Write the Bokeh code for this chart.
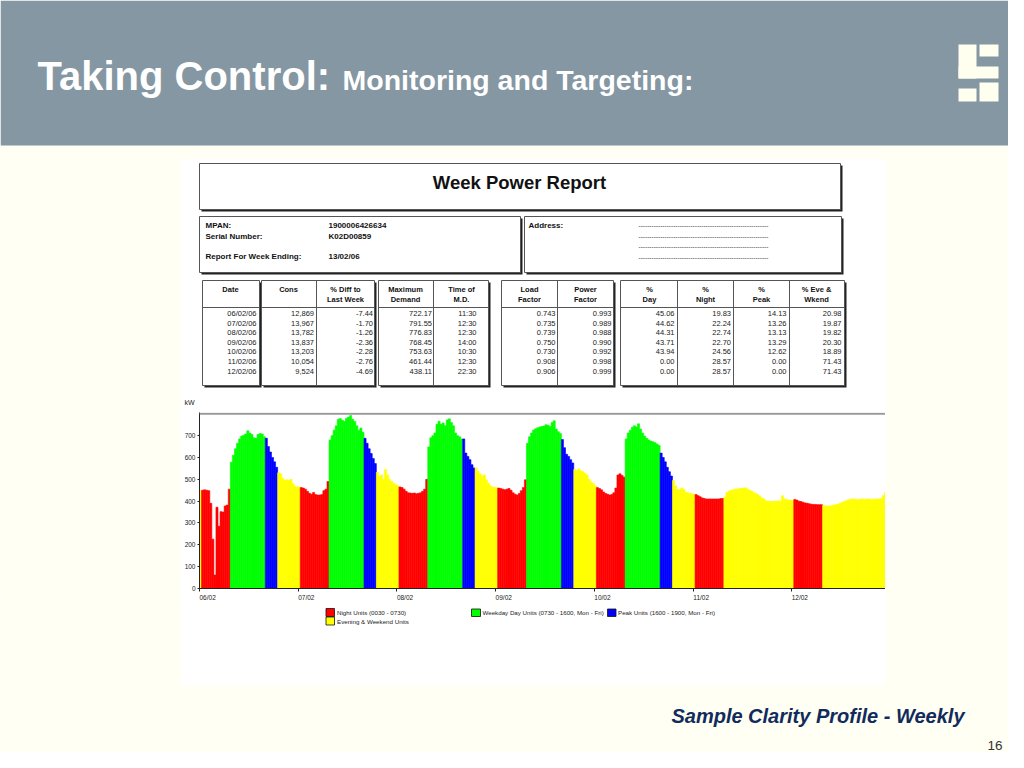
from bokeh.plotting import figure
from bokeh.layouts import column, row
from bokeh.models import Range1d, FixedTicker, Span, ColumnDataSource
from bokeh.core.properties import value
from bokeh.embed import file_html
from bokeh.resources import INLINE

# ---------------- data ----------------
dates = ["06/02/06", "07/02/06", "08/02/06", "09/02/06", "10/02/06", "11/02/06", "12/02/06"]
cons = [12869, 13967, 13782, 13837, 13203, 10054, 9524]
pct_diff = [-7.44, -1.70, -1.26, -2.36, -2.28, -2.76, -4.69]
max_demand = [722.17, 791.55, 776.83, 768.45, 753.63, 461.44, 438.11]
time_md = ["11:30", "12:30", "12:30", "14:00", "10:30", "12:30", "22:30"]
load_factor = [0.743, 0.735, 0.739, 0.750, 0.730, 0.908, 0.906]
power_factor = [0.993, 0.989, 0.988, 0.990, 0.992, 0.998, 0.999]
pct_day = [45.06, 44.62, 44.31, 43.71, 43.94, 0.00, 0.00]
pct_night = [19.83, 22.24, 22.74, 22.70, 24.56, 28.57, 28.57]
pct_peak = [14.13, 13.26, 13.13, 13.29, 12.62, 0.00, 0.00]
pct_eve = [20.98, 19.87, 19.82, 20.30, 18.89, 71.43, 71.43]

day_labels = ["06/02", "07/02", "08/02", "09/02", "10/02", "11/02", "12/02"]
is_weekday = [True, True, True, True, True, False, False]
y_ticks = [0, 100, 200, 300, 400, 500, 600, 700]

# half-hourly kW, 48 values per day (slot 0 = 00:00-00:30)
kw_0602 = [448,
           450, 452, 450, 448, 390, 226, 62, 372, 285, 352, 350, 378, 382, 455,
           578, 610, 640, 665, 685, 698, 702, 708, 722, 712, 705, 690, 688, 705, 710, 708, 695,
           688, 650, 625, 600, 580, 555,
           530, 525, 505, 495, 498, 495, 500, 480, 468, 465]
kw_0702 = [465,
           462, 460, 455, 445, 436, 432, 440, 430, 428, 428, 430, 448, 455, 490,
           680, 700, 725, 745, 775, 778, 770, 765, 780, 785, 792, 775, 765, 745, 725, 735, 715,
           688, 665, 640, 618, 595, 572,
           532, 515, 520, 500, 545, 520, 500, 490, 482, 475]
kw_0802 = [470,
           465, 462, 455, 445, 438, 437, 436, 437, 434, 436, 438, 445, 455, 500,
           648, 690, 700, 712, 752, 766, 752, 758, 745, 772, 777, 760, 745, 712, 700, 695, 685,
           685, 620, 605, 590, 567, 552,
           552, 536, 525, 513, 520, 498, 482, 470, 465, 463]
kw_0902 = [462,
           460, 458, 455, 452, 455, 458, 450, 438, 432, 428, 435, 448, 462, 498,
           665, 695, 712, 726, 732, 736, 740, 742, 744, 750, 748, 742, 760, 768, 730, 718, 710,
           682, 645, 615, 605, 590, 575,
           545, 540, 548, 538, 535, 528, 520, 500, 488, 480]
kw_1002 = [470,
           462, 458, 452, 442, 435, 432, 428, 430, 438, 460, 520, 525, 518, 510,
           685, 712, 725, 738, 745, 740, 754, 730, 712, 698, 688, 680, 675, 672, 668, 662, 655,
           620, 600, 580, 555, 535, 515,
           495, 470, 455, 452, 460, 455, 440, 438, 436, 434]
kw_1102 = [432,
           430, 425, 420, 415, 412, 410, 410, 410, 410, 410, 410, 410, 412, 412,
           418, 440, 445, 450, 452, 455, 456, 458, 458, 460, 461, 456, 450, 446, 440, 436, 430,
           422, 415, 410, 402, 400, 398,
           400, 398, 400, 402, 400, 425, 410, 408, 405, 405]
kw_1202 = [402,
           408, 405, 400, 398, 395, 392, 390, 388, 386, 385, 385, 384, 384, 384,
           380, 378, 378, 378, 380, 382, 384, 386, 390, 394, 398, 402, 406, 408, 410, 410, 408,
           408, 410, 410, 408, 410, 410,
           408, 408, 410, 410, 410, 412, 425, 438, 432, 428]
week_kw = [kw_0602, kw_0702, kw_0802, kw_0902, kw_1002, kw_1102, kw_1202]

# tariff bands in half-hour slots
NIGHT_SLOTS = (1, 15)   # 00:30 - 07:30
DAY_SLOTS = (15, 32)    # 07:30 - 16:00
PEAK_SLOTS = (32, 38)   # 16:00 - 19:00

RED, GREEN, BLUE, YELLOW = "#FF0000", "#00FF00", "#0000FF", "#FFFF00"
legend_labels = ["Night Units (0030 - 0730)", "Evening & Weekend Units",
                 "Weekday Day Units (0730 - 1600, Mon - Fri)", "Peak Units (1600 - 1900, Mon - Fri)"]

# ---------------- styling ----------------
SLIDE_BG = "#FFFFF3"
HEADER_BG = "#8497A3"
FONT = "Liberation Sans"
NBSP = "\u00a0"


def panel(x0, x1, y0, y1, bg=SLIDE_BG):
    p = figure(width=x1 - x0, height=y1 - y0, x_range=Range1d(x0, x1), y_range=Range1d(y1, y0),
               output_backend="svg", toolbar_location=None, min_border=0,
               x_axis_location=None, y_axis_location=None)
    p.grid.visible = False
    p.outline_line_color = None
    p.background_fill_color = bg
    p.border_fill_color = bg
    return p


def txt(p, xs, ys, texts, size, align="left", style="normal", color="#111111",
        baseline="middle", font=FONT):
    p.text(x=xs, y=ys, text=texts, text_font=value(font), text_font_size=size,
           text_font_style=style, text_color=color, text_align=align, text_baseline=baseline)


def box(p, l, t, r, b, shadow=2):
    p.quad(left=[l + shadow], right=[r + shadow], top=[t + shadow], bottom=[b + shadow],
           fill_color="#222222", line_color=None)
    p.quad(left=[l], right=[r], top=[t], bottom=[b], fill_color="white",
           line_color="#555555", line_width=1)


# ---------------- top part (slide header + report tables) ----------------
top = panel(0, 1008, 0, 409)
top.quad(left=[0], right=[1008], top=[0], bottom=[145], fill_color=HEADER_BG, line_color=None)
txt(top, [37], [75.5], ["Taking Control:"], "40px", style="bold", color="white",
    baseline="alphabetic")
txt(top, [342], [79], ["Monitoring and Targeting:"], "28.5px", style="bold", color="white",
    baseline="alphabetic")
# logo
top.quad(left=[958, 958, 979, 958, 979], right=[976, 998, 998, 976, 998],
         top=[44, 66, 44, 88, 82], bottom=[78, 78, 56, 101, 101],
         fill_color="#FFFFF0", line_color=None)
# white report panel
top.quad(left=[180], right=[885], top=[158], bottom=[409], fill_color="white", line_color=None)

# title box
box(top, 199, 163, 840, 209)
txt(top, [519], [182], ["Week Power Report"], "18.5px", align="center", style="bold")

# info boxes
box(top, 199, 216, 520, 272)
box(top, 524, 216, 841, 272)
txt(top, [205, 205, 205], [225, 236, 256], ["MPAN:", "Serial Number:", "Report For Week Ending:"],
    "8px", style="bold")
txt(top, [328, 328, 328], [225, 236, 256], ["1900006426634", "K02D00859", "13/02/06"],
    "8px", style="bold")
txt(top, [528], [225], ["Address:"], "8px", style="bold")
txt(top, [638] * 4, [225, 235.5, 246, 256.5], ["-" * 60] * 4, "6.5px", color="#444444")

# table boxes
tbl_top, tbl_head, tbl_bot = 280, 307, 385
for l, r in [(202, 259), (261, 374), (378, 488), (501, 613), (620, 844)]:
    box(top, l, tbl_top, r, tbl_bot)
    top.segment(x0=[l], y0=[tbl_head], x1=[r], y1=[tbl_head], line_color="#555555", line_width=1)
dividers = [316, 433, 557, 677, 733, 789]
top.segment(x0=dividers, y0=[tbl_top] * 6, x1=dividers, y1=[tbl_bot] * 6,
            line_color="#555555", line_width=1)

headers = [(230, ["Date"]), (288, ["Cons"]), (345, ["% Diff to", "Last Week"]),
           (405, ["Maximum", "Demand"]), (461, ["Time of", "M.D."]), (529, ["Load", "Factor"]),
           (585, ["Power", "Factor"]), (649, ["%", "Day"]), (705, ["%", "Night"]),
           (761, ["%", "Peak"]), (816, ["% Eve &", "Wkend"])]
hx, hy, ht = [], [], []
for x, lines in headers:
    for k, line in enumerate(lines):
        hx.append(x)
        hy.append(289 + 10 * k)
        ht.append(line)
txt(top, hx, hy, ht, "7.5px", align="center", style="bold")

columns = [
    (256, dates),
    (313.5, [f"{v:,}" for v in cons]),
    (372.5, [f"{v:.2f}" for v in pct_diff]),
    (431.5, [f"{v:.2f}" for v in max_demand]),
    (476, time_md),
    (555, [f"{v:.3f}" for v in load_factor]),
    (611, [f"{v:.3f}" for v in power_factor]),
    (674, [f"{v:.2f}" for v in pct_day]),
    (730.5, [f"{v:.2f}" for v in pct_night]),
    (786, [f"{v:.2f}" for v in pct_peak]),
    (841, [f"{v:.2f}" for v in pct_eve]),
]
row_y = [313 + 9.6 * i for i in range(len(dates))]
for x, vals in columns:
    txt(top, [x] * len(vals), row_y, vals, "7.5px", align="right", color="#222222")

txt(top, [184], [402], ["kW"], "7px", color="#222222")

# ---------------- chart ----------------
def band(slot, weekday):
    if NIGHT_SLOTS[0] <= slot < NIGHT_SLOTS[1]:
        return RED
    if weekday and DAY_SLOTS[0] <= slot < DAY_SLOTS[1]:
        return GREEN
    if weekday and PEAK_SLOTS[0] <= slot < PEAK_SLOTS[1]:
        return BLUE
    return YELLOW


left, right, tops, colors = [], [], [], []
for d, vals in enumerate(week_kw):
    n = len(vals)
    for s, v in enumerate(vals):
        left.append(d + s / n)
        right.append(d + (s + 1) / n)
        tops.append(v)
        colors.append(band(s, is_weekday[d]))
src = ColumnDataSource(dict(left=left, right=right, top=tops, bottom=[0] * len(tops), color=colors))

chart = figure(width=705, height=194, x_range=Range1d(0, 6.95), y_range=Range1d(0, 806),
               output_backend="svg", toolbar_location=None,
               min_border_left=19, min_border_right=0, min_border_top=3, min_border_bottom=15)
chart.outline_line_color = None
chart.grid.visible = False
chart.background_fill_color = "white"
chart.border_fill_color = "white"
chart.quad(left="left", right="right", top="top", bottom="bottom", source=src,
           fill_color="color", line_color="color", line_width=0.6)
chart.add_layout(Span(location=800, dimension="width", line_color="#999999", line_width=2))

chart.yaxis.ticker = FixedTicker(ticks=y_ticks)
chart.yaxis.major_tick_out = 2
chart.yaxis.major_tick_in = 0
chart.yaxis.minor_tick_out = 0
chart.yaxis.minor_tick_in = 0
chart.yaxis.major_label_standoff = 2
chart.xaxis.ticker = FixedTicker(ticks=list(range(len(day_labels))))
# labels start at their tick (padded so that the centred label begins at the tick)
chart.xaxis.major_label_overrides = {i: NBSP * 9 + lbl for i, lbl in enumerate(day_labels)}
chart.xaxis.major_tick_out = 3
chart.xaxis.major_tick_in = 0
chart.xaxis.minor_tick_out = 0
chart.xaxis.minor_tick_in = 0
chart.xaxis.major_label_standoff = 2
for ax in (chart.xaxis, chart.yaxis):
    ax.axis_line_color = "#222222"
    ax.major_tick_line_color = "#222222"
    ax.major_label_text_font = FONT
    ax.major_label_text_font_size = "6.5px"
    ax.major_label_text_color = "#222222"

left_pad = panel(0, 180, 409, 603)
right_pad = panel(885, 1008, 409, 603)

# ---------------- bottom part (legend + footer) ----------------
bottom = panel(0, 1008, 603, 752)
bottom.quad(left=[180], right=[885], top=[603], bottom=[685], fill_color="white", line_color=None)
bottom.quad(left=[325.5, 325.5, 471, 607], right=[334, 334, 480, 615.5],
            top=[608, 616.5, 608.5, 608.5], bottom=[616, 624.5, 616, 616],
            fill_color=[RED, YELLOW, GREEN, BLUE], line_color="#111111", line_width=0.8)
txt(bottom, [336.5, 336.5, 482, 617.5], [612, 621, 612, 612], legend_labels, "6.2px",
    color="#222222")
txt(bottom, [964], [715], ["Sample Clarity Profile - Weekly"], "20px", align="right",
    style="bold italic", color="#112B5C", baseline="alphabetic")
txt(bottom, [1002], [749], ["16"], "13.5px", align="right", color="#333333", baseline="bottom")

layout = column(top, row(left_pad, chart, right_pad), bottom)

open("out.html", "w").write(file_html(layout, INLINE))
